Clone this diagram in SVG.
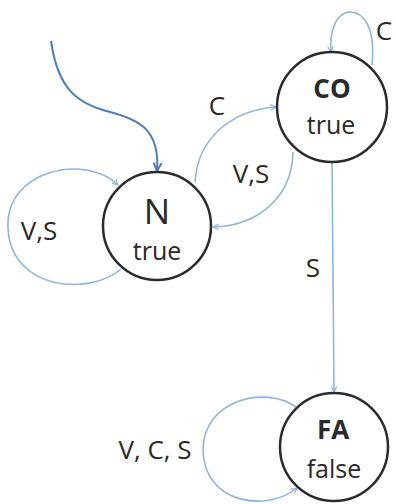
<svg xmlns="http://www.w3.org/2000/svg" width="396" height="504" viewBox="0 0 396 504">
<style>
.node{fill:#fff;stroke:#2b2b2b;stroke-width:2.5}
.edge{fill:none;stroke:#8fb4e0;stroke-width:1.6}
.init{fill:none;stroke:#4a7ebf;stroke-width:2}
text{font-family:"Open Sans","Liberation Sans",sans-serif;fill:#2a2a2a;text-anchor:middle}
.lbl{font-size:26px}
.big{font-size:35px}
.bold{font-weight:bold;font-size:26px}
.sub{font-size:25px}
</style>
<defs>
<marker id="ah" viewBox="0 0 10 10" refX="9" refY="5" markerWidth="7" markerHeight="7" markerUnits="userSpaceOnUse" orient="auto">
<path d="M1,1 L9,5 L1,9" fill="none" stroke="#8fb4e0" stroke-width="1.6"/>
</marker>
<marker id="ahi" viewBox="0 0 10 10" refX="9" refY="5" markerWidth="10" markerHeight="10" markerUnits="userSpaceOnUse" orient="auto">
<path d="M1,1 L9,5 L1,9" fill="none" stroke="#4a7ebf" stroke-width="2"/>
</marker>
</defs>
<g id="connectors">
<path class="init" d="M51,41 C58,90 78,104 110,112 C140,120 160,130 157,171" marker-end="url(#ahi)"/>
<path class="edge" d="M121,269 C90,296 11,291 8,228 C5,170 85,153 118,185" marker-end="url(#ah)"/>
<path class="edge" d="M195,182 C198,135 235,110 276,107" marker-end="url(#ah)"/>
<path class="edge" d="M293,152 C292,200 255,226 213,227" marker-end="url(#ah)"/>
<path class="edge" d="M372,65 C376,25 362,12 350,12 C338,12 329,28 331,52" marker-end="url(#ah)"/>
<path class="edge" d="M332,162 L334,392" marker-end="url(#ah)"/>
<path class="edge" d="M296,407 C265,385 203,400 203,450 C204,505 268,512 297,488" marker-end="url(#ah)"/>
<text class="lbl" x="39" y="240">V,S</text>
<text class="lbl" x="217" y="115">C</text>
<text class="lbl" x="251" y="183">V,S</text>
<text class="lbl" x="384" y="40">C</text>
<text class="lbl" x="313" y="277">S</text>
<text class="lbl" x="155" y="459">V, C, S</text>
</g>
<g id="node-N">
<circle class="node" cx="157" cy="226" r="54"/>
<text class="big" x="157" y="224">N</text>
<text class="sub" x="157" y="260">true</text>
</g>
<g id="node-CO">
<circle class="node" cx="332" cy="107" r="55"/>
<text class="bold" x="332" y="98">CO</text>
<text class="sub" x="331" y="134">true</text>
</g>
<g id="node-FA">
<circle class="node" cx="334" cy="447" r="54"/>
<text class="bold" x="333" y="439">FA</text>
<text class="sub" x="334" y="478">false</text>
</g>
</svg>
